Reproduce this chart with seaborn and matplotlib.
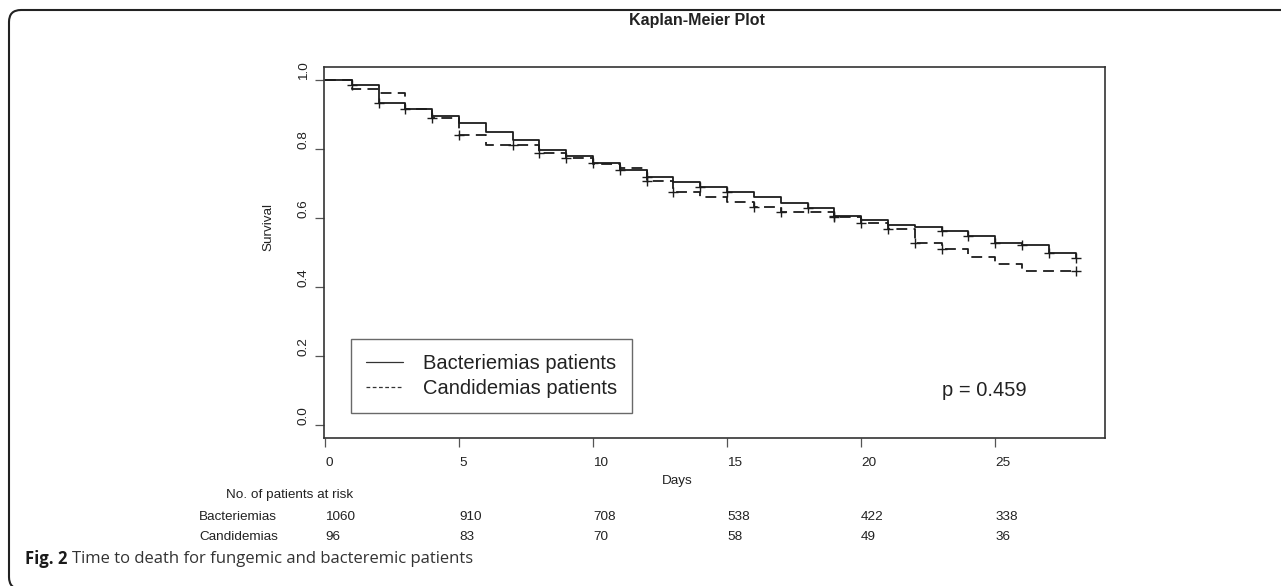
import numpy as np
import pandas as pd
import matplotlib
matplotlib.use("Agg")
import matplotlib.pyplot as plt
import seaborn as sns
from matplotlib.lines import Line2D
from matplotlib.patches import FancyBboxPatch
from matplotlib.transforms import IdentityTransform, blended_transform_factory

# ---------------- data ----------------
days = list(range(0, 29))
bact_surv = [1.000, 0.986, 0.934, 0.915, 0.896, 0.876, 0.850, 0.825, 0.797, 0.780,
             0.760, 0.739, 0.720, 0.703, 0.689, 0.676, 0.662, 0.644, 0.628, 0.606,
             0.593, 0.580, 0.575, 0.562, 0.549, 0.528, 0.522, 0.498, 0.483]
cand_surv = [1.000, 0.974, 0.961, 0.915, 0.891, 0.841, 0.812, 0.812, 0.787, 0.773,
             0.757, 0.746, 0.707, 0.676, 0.662, 0.647, 0.631, 0.617, 0.617, 0.602,
             0.586, 0.567, 0.528, 0.509, 0.488, 0.466, 0.446, 0.446, 0.446]
bact_censor_days = [1, 2, 3, 10, 11, 12, 14, 15, 18, 19, 23, 24, 25, 26, 27, 28]
cand_censor_days = [4, 5, 7, 8, 9, 12, 13, 16, 17, 19, 20, 21, 22, 23, 28]
group_names = ["Bacteriemias patients", "Candidemias patients"]

risk_times = [0, 5, 10, 15, 20, 25]
risk_groups = ["Bacteriemias", "Candidemias"]
bact_risk = [1060, 910, 708, 538, 422, 338]
cand_risk = [96, 83, 70, 58, 49, 36]

x_ticks = [0, 5, 10, 15, 20, 25]
y_ticks = [0.0, 0.2, 0.4, 0.6, 0.8, 1.0]

title = "Kaplan-Meier Plot"
p_text = "p = 0.459"

# ---------------- style ----------------
sns.set_theme(style="white")
plt.rcParams["font.family"] = ["Liberation Sans", "DejaVu Sans"]

W, H = 1281, 586
fig = plt.figure(figsize=(W / 100, H / 100), dpi=100)
fig.patch.set_facecolor("white")

ax = fig.add_axes([324 / W, 1 - 438.3 / H, (1105 - 324) / W, (438.3 - 66.7) / H])

ink = "#1c1c1c"

df = pd.DataFrame({
    "day": days * 2,
    "survival": bact_surv + cand_surv,
    "group": [group_names[0]] * len(days) + [group_names[1]] * len(days),
})
sns.lineplot(data=df, x="day", y="survival", style="group",
             dashes={group_names[0]: "", group_names[1]: (6, 3.5)},
             drawstyle="steps-post", estimator=None, color=ink, linewidth=1.3,
             legend=False, ax=ax)

cens = pd.DataFrame({
    "day": bact_censor_days + cand_censor_days,
    "survival": [bact_surv[d] for d in bact_censor_days] + [cand_surv[d] for d in cand_censor_days],
})
sns.scatterplot(data=cens, x="day", y="survival", marker="+", s=48,
                color=ink, linewidth=1.0, ax=ax, legend=False, zorder=3)

ax.set_xlim(-0.04, 29.1)
ax.set_ylim(-0.0386, 1.0386)
ax.set_xlabel("")
ax.set_ylabel("")
ax.set_xticks(x_ticks)
ax.set_xticklabels([str(t) for t in x_ticks], ha="left", fontsize=9.7, color="#222222")
ax.set_yticks(y_ticks)
ax.set_yticklabels([f"{t:.1f}" for t in y_ticks], rotation=90, va="bottom",
                   fontsize=9.7, color="#222222")
ax.tick_params(axis="x", bottom=True, direction="out", length=6.2, width=0.9,
               color="#555555", pad=7.5)
ax.tick_params(axis="y", left=True, direction="out", length=6.2, width=0.9,
               color="#555555", pad=4)
for s in ax.spines.values():
    s.set_visible(True)
    s.set_color("#333333")
    s.set_linewidth(1.2)

# legend
handles = [Line2D([], [], color="#333333", lw=0.9),
           Line2D([], [], color="#333333", lw=0.9, dashes=(3, 2))]
leg = ax.legend(handles, group_names, loc="upper left",
                bbox_to_anchor=((350.7 - 324) / (1105 - 324), 1 - (339 - 66.7) / (438.3 - 66.7)),
                borderaxespad=0, fontsize=14.5, frameon=True, fancybox=False,
                handlelength=1.85, handletextpad=1.0, borderpad=0.75, labelspacing=0.3)
leg.get_frame().set_edgecolor("#444444")
leg.get_frame().set_linewidth(1.0)
for t in leg.get_texts():
    t.set_color("#222222")

# texts
fig.text(941.7 / W, 1 - 390 / H, p_text, fontsize=14.5, ha="left", va="center", color="#222222")
fig.text(697 / W, 1 - 20 / H, title, fontsize=11.5, fontweight="bold", ha="center", va="center",
         color="#222222")
fig.text(677 / W, 1 - 481 / H, "Days", fontsize=9.7, ha="center", va="center", color="#222222")
fig.text(268 / W, 1 - 227 / H, "Survival", fontsize=9.7, rotation=90, ha="center", va="center",
         color="#222222")

# risk table
fig.text(226 / W, 1 - 495 / H, "No. of patients at risk", fontsize=9.7, ha="left", va="center",
         color="#222222")
trans = blended_transform_factory(ax.transData, fig.transFigure)
row_y = [516.5, 537]
for name, vals, yy in zip(risk_groups, [bact_risk, cand_risk], row_y):
    fig.text(199.3 / W, 1 - yy / H, name, fontsize=9.7, ha="left", va="center", color="#222222")
    for t, v in zip(risk_times, vals):
        ax.text(t, 1 - yy / H, str(v), transform=trans, fontsize=9.7, ha="left", va="center",
                color="#222222", clip_on=False)

# border (rounded frame, bottom and right edges just outside the canvas)
border = FancyBboxPatch((9, -3), 1320, H - 10 + 3, boxstyle="round,pad=0,rounding_size=12",
                        transform=IdentityTransform(), facecolor="none", edgecolor="#222222",
                        linewidth=1.5)
fig.add_artist(border)

# caption
cap_y = 1 - 559 / H
t1 = fig.text(25 / W, cap_y, "Fig. 2", fontsize=12, fontweight="bold", ha="left", va="center",
              color="#1a1a1a", family=["Open Sans", "DejaVu Sans"])
fig.canvas.draw()
bb = t1.get_window_extent(renderer=fig.canvas.get_renderer())
fig.text((bb.x1 + 5) / W, cap_y, "Time to death for fungemic and bacteremic patients", fontsize=12,
         ha="left", va="center", color="#333333", family=["Open Sans", "DejaVu Sans"])

fig.savefig("out.png", dpi=100)
